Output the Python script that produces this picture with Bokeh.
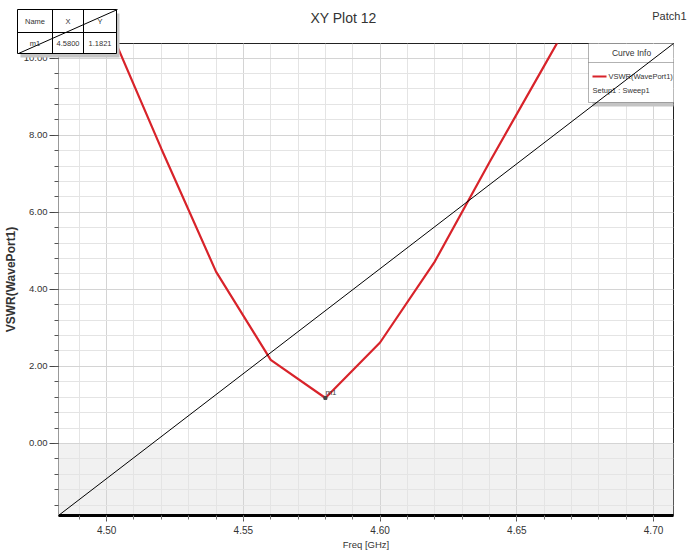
from bokeh.plotting import figure
from bokeh.layouts import column
from bokeh.models import (Range1d, SingleIntervalTicker, BoxAnnotation, Label,
                          PolyAnnotation, NumeralTickFormatter)
from bokeh.embed import file_html
from bokeh.resources import INLINE
from bokeh.core.properties import value

# ---- data ----
freq = [4.50, 4.52, 4.54, 4.56, 4.58, 4.60, 4.62, 4.64, 4.66, 4.68]
vswr = [10.95, 7.65, 4.46, 2.17, 1.18, 2.62, 4.72, 7.30, 9.80, 12.30]
marker_name = "m1"
marker_x = 4.58
marker_y = 1.1821
x_start, x_end = 4.4824, 4.7073
y_start, y_end = -1.87, 10.38
title_text = "XY Plot 12"
design_text = "Patch1"
series_name = "VSWR(WavePort1)"
sweep_name = "Setup1 : Sweep1"

FONT = "Liberation Sans"
TXT = "#333333"
RED = "#d8232a"

p = figure(width=689, height=552, output_backend="svg", toolbar_location=None,
           x_range=Range1d(x_start, x_end), y_range=Range1d(y_start, y_end),
           min_border_left=56, min_border_right=16, min_border_top=43,
           min_border_bottom=35, frame_align=False)
p.background_fill_color = "white"
p.border_fill_color = "white"
p.outline_line_color = "#222222"
p.outline_line_width = 1

# axes
xa = p.xaxis[0]
xa.ticker = SingleIntervalTicker(interval=0.05, num_minor_ticks=5)
xa.formatter = NumeralTickFormatter(format="0.00")
xa.axis_line_color = "black"
xa.axis_line_width = 3
xa.major_tick_in = 0
xa.major_tick_out = 6
xa.minor_tick_in = 0
xa.minor_tick_out = 4
xa.major_tick_line_color = "#555555"
xa.minor_tick_line_color = "#777777"
xa.major_label_text_font = FONT
xa.major_label_text_font_size = "10px"
xa.major_label_text_color = TXT
xa.major_label_standoff = 4
xa.axis_label = "Freq [GHz]"
xa.axis_label_text_font = FONT
xa.axis_label_text_font_size = "9.5px"
xa.axis_label_text_font_style = "normal"
xa.axis_label_text_color = TXT
xa.axis_label_standoff = 2

ya = p.yaxis[0]
ya.ticker = SingleIntervalTicker(interval=2, num_minor_ticks=5)
ya.formatter = NumeralTickFormatter(format="0.00")
ya.axis_line_color = "#999999"
ya.axis_line_width = 1
ya.major_tick_in = 0
ya.major_tick_out = 9
ya.minor_tick_in = 0
ya.minor_tick_out = 4
ya.major_tick_line_color = "#444444"
ya.minor_tick_line_color = "#555555"
ya.major_label_text_font = FONT
ya.major_label_text_font_size = "9.5px"
ya.major_label_text_color = TXT
ya.major_label_standoff = 2
ya.axis_label = "VSWR(WavePort1)"
ya.axis_label_text_font = FONT
ya.axis_label_text_font_size = "12px"
ya.axis_label_text_font_style = "bold"
ya.axis_label_text_color = TXT
ya.axis_label_standoff = 3

for g in (p.xgrid[0], p.ygrid[0]):
    g.grid_line_color = "#d4d4d4"
    g.minor_grid_line_color = "#e4e4e4"
    g.grid_line_width = 1

# shaded region below zero
p.add_layout(BoxAnnotation(top=0, fill_color="#f1f1f1", fill_alpha=1,
                           line_color=None, level="image"))

# curve
p.line(freq, vswr, color=RED, line_width=2.2)
# marker
p.scatter([marker_x], [marker_y], size=3, color="#444444", marker="square")
p.text([marker_x], [marker_y], text=[marker_name], text_font_size="8px",
       text_font=value(FONT), text_color="#444444", y_offset=-1,
       text_baseline="bottom")

# ---- curve info legend (inside the frame, canvas units) ----
def box(l, r, t, b, fill="white", line="black", lw=1):
    p.add_layout(BoxAnnotation(left=l, right=r, top=t, bottom=b,
                               left_units="canvas", right_units="canvas",
                               top_units="canvas", bottom_units="canvas",
                               fill_color=fill, fill_alpha=1,
                               line_color=line, line_width=lw))

def lab(x, y, t, size="8px", align="center"):
    p.add_layout(Label(x=x, y=y, x_units="canvas", y_units="canvas", text=t,
                       text_font=FONT, text_font_size=size, text_align=align,
                       text_baseline="middle", text_color=TXT))

box(592, 680, 46, 106, fill="#c4c4c4", line=None)
box(588, 676, 42, 102)
p.add_layout(PolyAnnotation(xs=[588, 676], ys=[62, 62], xs_units="canvas",
                            ys_units="canvas", fill_alpha=0, line_color="black"))
lab(631, 52, "Curve Info", size="8.5px")
box(592, 606, 75, 77, fill=RED, line=None)
lab(608, 76, series_name, size="7.5px", align="left")
lab(592, 90, sweep_name, size="7.5px", align="left")

# diagonal line (corner to corner), drawn over the legend
p.line([x_start, x_end], [y_start, y_end], color="black", line_width=1,
       level="overlay")

# ---- overlay for the header strip (title, design name, marker table) ----
ov = figure(width=689, height=60, output_backend="svg", toolbar_location=None,
            x_range=Range1d(0, 689), y_range=Range1d(60, 0),
            x_axis_type=None, y_axis_type=None, min_border=0,
            min_border_left=0, min_border_right=0, min_border_top=0,
            min_border_bottom=0, frame_align=False,
            styles={"position": "absolute", "left": "0px", "top": "0px",
                    "z-index": "10"})
ov.background_fill_alpha = 0
ov.border_fill_alpha = 0
ov.outline_line_color = None
ov.grid.visible = False

ov.text([343], [17], text=[title_text], text_font=value(FONT),
        text_font_size="14px", text_align="center", text_baseline="middle",
        text_color=TXT)
ov.text([686], [15], text=[design_text], text_font=value(FONT),
        text_font_size="11px", text_align="right", text_baseline="middle",
        text_color=TXT)

# marker table
tl, tr, tt, tb, tm = 17, 116, 9, 53, 32
c1, c2 = 52, 83
ov.quad(left=[tl + 3], right=[tr + 3], top=[tt + 4], bottom=[tb + 4],
        fill_color="#c4c4c4", line_color=None)
ov.quad(left=[tl], right=[tr], top=[tt], bottom=[tb], fill_color="white",
        line_color="black", line_width=1)
ov.segment(x0=[tl, c1, c2, tl + 1], y0=[tm, tt, tt, tb],
           x1=[tr, c1, c2, tr + 1], y1=[tm, tb, tb, tt],
           line_color="black", line_width=1)
cells_x = [(tl + c1) / 2, (c1 + c2) / 2, (c2 + tr) / 2] * 2
cells_y = [(tt + tm) / 2] * 3 + [(tm + tb) / 2] * 3
cells_t = ["Name", "X", "Y", marker_name, f"{marker_x:.4f}", f"{marker_y:.4f}"]
ov.text(cells_x, cells_y, text=cells_t, text_font=value(FONT),
        text_font_size="7.5px", text_align="center", text_baseline="middle",
        text_color=TXT)

layout = column(ov, p)
open("out.html", "w").write(file_html(layout, INLINE))
